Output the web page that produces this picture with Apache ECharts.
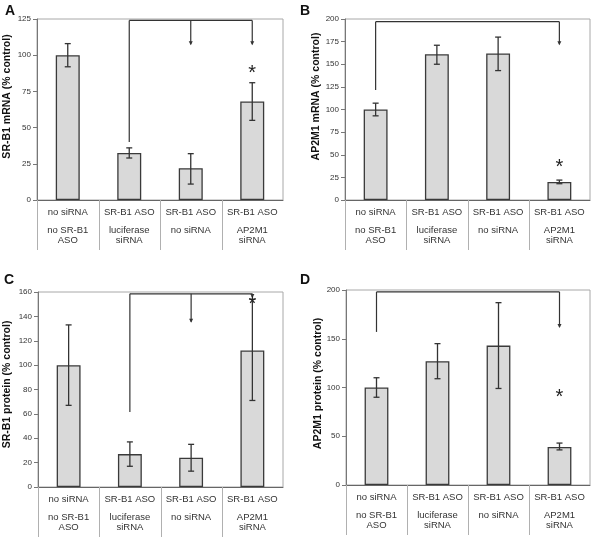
<!DOCTYPE html>
<html>
<head>
<meta charset="utf-8">
<script src="https://cdn.jsdelivr.net/npm/echarts@6/dist/echarts.min.js"></script>
<style>html,body{margin:0;padding:0;background:#fff}#c{width:592px;height:539px}</style>
</head>
<body>
<div id="c"></div>
<script>
// ---- data ----
const row1Labels = ['no siRNA', 'SR-B1 ASO', 'SR-B1 ASO', 'SR-B1 ASO'];
const row2Labels = ['no SR-B1\nASO', 'luciferase\nsiRNA', 'no siRNA', 'AP2M1\nsiRNA'];

const panelLetters = ['A', 'B', 'C', 'D'];
const yTitles = ['SR-B1 mRNA (% control)', 'AP2M1 mRNA (% control)', 'SR-B1 protein (% control)', 'AP2M1 protein (% control)'];
const yMax = [125, 200, 160, 200];
const yStep = [25, 25, 20, 50];

const valuesA = [100, 32.5, 22, 68];
const errLowA = [92, 29, 11, 55];
const errHighA = [108, 36, 32, 81];

const valuesB = [100, 161, 162, 20];
const errLowB = [93, 150, 143, 18];
const errHighB = [107, 171, 180, 22];

const valuesC = [100, 27, 24, 112];
const errLowC = [67, 17, 13, 71];
const errHighC = [133, 37, 35, 154];

const valuesD = [100, 127, 143, 39];
const errLowD = [90, 109, 99, 36];
const errHighD = [110, 145, 187, 43];

// asterisk: [category index, value]
const starA = [3, 91];
const starB = [3, 41];
const starC = [3, 154];
const starD = [3, 95];

// bracket tops: [fromIdx, toIdx, topValue]
const bracketTopA = [1, 3, 124];
const bracketTopB = [0, 3, 197];
const bracketTopC = [1, 3, 158.5];
const bracketTopD = [0, 3, 198];
// bracket legs: [idx, endValue, arrow(1/0)]
const legsA = [[1, 40, 0], [2, 107.5, 1], [3, 107.5, 1]];
const legsB = [[0, 121.5, 0], [3, 172, 1]];
const legsC = [[1, 61.5, 0], [2, 135.5, 1], [3, 156, 1]];
const legsD = [[0, 157, 0], [3, 162, 1]];

const panels = [
  { v: valuesA, lo: errLowA, hi: errHighA, star: starA, top: bracketTopA, legs: legsA },
  { v: valuesB, lo: errLowB, hi: errHighB, star: starB, top: bracketTopB, legs: legsB },
  { v: valuesC, lo: errLowC, hi: errHighC, star: starC, top: bracketTopC, legs: legsC },
  { v: valuesD, lo: errLowD, hi: errHighD, star: starD, top: bracketTopD, legs: legsD }
];

// ---- layout ----
const grids = [
  { left: 37, top: 19, width: 246, height: 181 },
  { left: 345, top: 19, width: 245, height: 181 },
  { left: 38, top: 292, width: 245, height: 195 },
  { left: 346, top: 290, width: 244, height: 195 }
];
const letterPos = [[5, 4], [300, 4], [4, 273], [300, 273]];
const titleShift = [26, 26, 10, 8];
const titleGap = [24, 23, 25, 22];
const tableDepth = 50;

const FONT = 'Liberation Sans, Arial, sans-serif';
const dark = '#333';

const option = {
  animation: false,
  backgroundColor: '#fff',
  textStyle: { fontFamily: FONT },
  title: panelLetters.map((t, i) => ({
    text: t, left: letterPos[i][0], top: letterPos[i][1], padding: 0,
    textStyle: { fontSize: 14, fontWeight: 'bold', color: '#111', fontFamily: FONT }
  })),
  grid: grids.map(g => Object.assign({ show: true, borderColor: '#a8a8a8', borderWidth: 1, containLabel: false }, g)),
  xAxis: grids.map((g, i) => ({
    type: 'category', gridIndex: i, data: row1Labels.map((r, k) => k),
    axisLine: { lineStyle: { color: '#666', width: 1 } },
    axisTick: { show: false },
    axisLabel: {
      margin: 6, interval: 0,
      formatter: (val) => {
        const k = +val;
        const r2 = row2Labels[k].split('\n').map(s => '{b|' + s + '}').join('\n');
        return '{a|' + row1Labels[k] + '}\n{s| }\n' + r2;
      },
      rich: {
        a: { fontSize: 9.5, lineHeight: 13, color: dark, fontFamily: FONT, align: 'center' },
        s: { fontSize: 4, lineHeight: 6 },
        b: { fontSize: 9.5, lineHeight: 10.5, color: dark, fontFamily: FONT, align: 'center' }
      }
    },
    splitLine: { show: false }
  })),
  yAxis: grids.map((g, i) => ({
    type: 'value', gridIndex: i, min: 0, max: yMax[i], interval: yStep[i],
    name: yTitles[i], nameLocation: 'middle', nameGap: titleGap[i], nameMoveOverlap: false,
    nameTextStyle: { fontSize: 10.5, fontWeight: 'bold', color: '#111', fontFamily: FONT, padding: [0, 0, 0, titleShift[i]] },
    axisLine: { show: true, lineStyle: { color: '#777' } },
    axisTick: { show: true, inside: false, length: 4, lineStyle: { color: '#777' } },
    axisLabel: { fontSize: 8, color: dark, margin: 6, fontFamily: FONT },
    splitLine: { show: false }
  })),
  series: []
};

panels.forEach((p, i) => {
  // table dividers under the category axis (left edge of each category cell)
  option.series.push({
    type: 'custom', xAxisIndex: i, yAxisIndex: i, z: 1, silent: true,
    data: p.v.map((v, k) => [k, 0]),
    renderItem: (params, api) => {
      const c = api.coord([api.value(0), 0]);
      const bw = api.size([1, 0])[0];
      const x = Math.round(c[0] - bw / 2) + 0.5;
      return { type: 'line', shape: { x1: x, y1: c[1], x2: x, y2: c[1] + tableDepth }, style: { stroke: '#b0b0b0', lineWidth: 1 } };
    },
    clip: false
  });
  option.series.push({
    type: 'bar', xAxisIndex: i, yAxisIndex: i, data: p.v, barWidth: '39%',
    itemStyle: { color: '#d9d9d9', borderColor: '#3a3a3a', borderWidth: 1.3 },
    z: 2
  });
  // error bars
  option.series.push({
    type: 'custom', xAxisIndex: i, yAxisIndex: i, z: 5,
    data: p.v.map((v, k) => [k, p.lo[k], p.hi[k]]),
    renderItem: (params, api) => {
      const x = api.value(0);
      const a = api.coord([x, api.value(1)]);
      const b = api.coord([x, api.value(2)]);
      const hw = 3;
      const st = { stroke: dark, lineWidth: 1.3 };
      return { type: 'group', children: [
        { type: 'line', shape: { x1: a[0], y1: a[1], x2: b[0], y2: b[1] }, style: st },
        { type: 'line', shape: { x1: a[0] - hw, y1: a[1], x2: a[0] + hw, y2: a[1] }, style: st },
        { type: 'line', shape: { x1: b[0] - hw, y1: b[1], x2: b[0] + hw, y2: b[1] }, style: st }
      ] };
    }
  });
  // bracket top line
  option.series.push({
    type: 'custom', xAxisIndex: i, yAxisIndex: i, z: 4,
    data: [p.top],
    renderItem: (params, api) => {
      const a = api.coord([api.value(0), api.value(2)]);
      const b = api.coord([api.value(1), api.value(2)]);
      return { type: 'line', shape: { x1: a[0], y1: a[1], x2: b[0], y2: b[1] }, style: { stroke: dark, lineWidth: 1.2 } };
    }
  });
  // bracket legs
  option.series.push({
    type: 'custom', xAxisIndex: i, yAxisIndex: i, z: 4,
    data: p.legs.map(l => [l[0], p.top[2], l[1], l[2]]),
    renderItem: (params, api) => {
      const a = api.coord([api.value(0), api.value(1)]);
      const b = api.coord([api.value(0), api.value(2)]);
      const ch = [{ type: 'line', shape: { x1: a[0], y1: a[1], x2: b[0], y2: b[1] }, style: { stroke: dark, lineWidth: 1.2 } }];
      if (api.value(3)) {
        ch.push({ type: 'polygon', shape: { points: [[b[0] - 2, b[1] - 3], [b[0] + 2, b[1] - 3], [b[0], b[1] + 1]] }, style: { fill: dark } });
      }
      return { type: 'group', children: ch };
    }
  });
  // asterisk
  option.series.push({
    type: 'custom', xAxisIndex: i, yAxisIndex: i, z: 6,
    data: [p.star],
    renderItem: (params, api) => {
      const c = api.coord([api.value(0), api.value(1)]);
      return { type: 'text', x: c[0], y: c[1] + 5, style: { text: '*', fontSize: 20, fontFamily: FONT, fill: '#222', align: 'center', verticalAlign: 'middle' } };
    }
  });
});

const chart = echarts.init(document.getElementById('c'), null, { renderer: 'canvas' });
chart.setOption(option);
</script>
</body>
</html>
